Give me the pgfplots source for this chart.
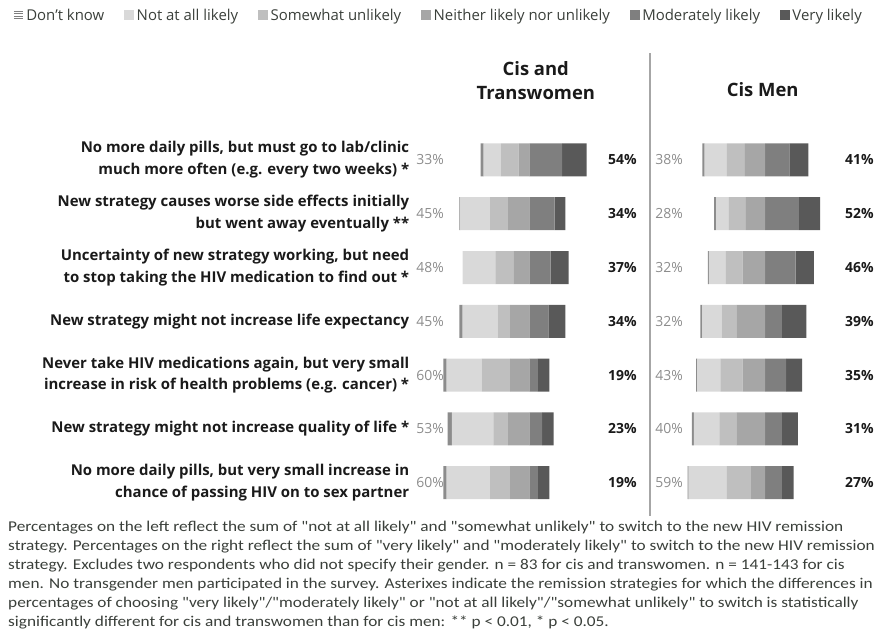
\documentclass[border=0pt]{standalone}
\usepackage{pgfplots}
\pgfplotsset{compat=1.18}
\usepackage{pgfplotstable}
\usepackage{fontspec}
\setmainfont{Open Sans}
\newfontfamily\calib[FakeStretch=1.155]{Carlito}

\definecolor{cdk}{HTML}{8C8C8C}
\definecolor{cnot}{HTML}{D9D9D9}
\definecolor{csom}{HTML}{BFBFBF}
\definecolor{cnei}{HTML}{A6A6A6}
\definecolor{cmod}{HTML}{7F7F7F}
\definecolor{cvery}{HTML}{595959}
\definecolor{labc}{HTML}{1A1A1A}
\definecolor{pctgray}{HTML}{8C8C8C}
\definecolor{fnc}{HTML}{3A3F3A}

% percent of respondents per answer, rows top (1) to bottom (7)
\pgfplotstableread{
row dk not som nei mod very
1 3 16 17 10 31 23
2 1 28 17 20 24 10
3 0 31 17 15 20 17
4 3 33 12 18 18 16
5 3 33 27 18 8 11
6 4 39 14 20 12 11
7 3 41 19 18 8 11
}\ctw

\pgfplotstableread{
row dk not som nei mod very
1 2 21 17 19 23 18
2 2 12 16 18 32 20
3 1 16 16 21 29 17
4 2 18 14 27 16 23
5 1 22 21 21 20 15
6 2 24 16 27 16 15
7 1 36 23 13 16 11
}\cm

\pgfplotsset{
  barax/.style={
    scale only axis, width=233.2bp, height=376.6bp,
    xmin=-110, xmax=110, ymin=0.5, ymax=7.5,
    xbar stacked, bar width=33bp,
    axis line style={draw=none}, major tick length=0pt,
    xtick=\empty, clip=false,
    title style={font=\bfseries\fontsize{18.5}{24}\selectfont, align=center,
      at={(0.5,1)}, anchor=south, inner sep=0pt, text=labc},
  },
  pctl/.style={draw=none, mark=none, nodes near coords={\pgfmathprintnumber{\pgfplotspointmeta}\%},
    /pgf/number format/assume math mode=true,
    nodes near coords style={anchor=east, inner sep=0pt, text=pctgray, font=\fontsize{14}{16}\selectfont}},
  pctr/.style={draw=none, mark=none, nodes near coords={\pgfmathprintnumber{\pgfplotspointmeta}\%},
    /pgf/number format/assume math mode=true,
    nodes near coords style={anchor=west, inner sep=0pt, text=labc, font=\bfseries\fontsize{14}{16}\selectfont}},
}

% unfavourable answers stack leftwards from 0, favourable ones rightwards
\newcommand{\bars}[1]{%
  \addplot[draw=none, fill=cnei] table[x expr=-\thisrow{nei}, y expr=8-\thisrow{row}]{#1};
  \addplot[draw=none, fill=csom] table[x expr=-\thisrow{som}, y expr=8-\thisrow{row}]{#1};
  \addplot[draw=none, fill=cnot] table[x expr=-\thisrow{not}, y expr=8-\thisrow{row}]{#1};
  \addplot[draw=none, fill=cdk] table[x expr=-\thisrow{dk}, y expr=8-\thisrow{row}]{#1};
  \addplot[draw=none, fill=cmod] table[x=mod, y expr=8-\thisrow{row}]{#1};
  \addplot[draw=none, fill=cvery] table[x=very, y expr=8-\thisrow{row}]{#1};
}

\begin{document}
\begin{tikzpicture}
\useasboundingbox (0bp,0bp) rectangle (878bp,-635bp);

\begin{axis}[barax, at={(412.7bp,-509.6bp)}, anchor=south west,
  ytick={1,...,7},
  yticklabels={
    {No more daily pills, but very small increase in\\chance of passing HIV on to sex partner},
    {New strategy might not increase quality of life *},
    {Never take HIV medications again, but very small\\increase in risk of health problems (e.g. cancer) *},
    {New strategy might not increase life expectancy},
    {Uncertainty of new strategy working, but need\\to stop taking the HIV medication to find out *},
    {New strategy causes worse side effects initially\\but went away eventually **},
    {No more daily pills, but must go to lab/clinic\\much more often (e.g. every two weeks) *}},
  yticklabel style={align=right, font=\bfseries\fontsize{15}{22}\selectfont, text=labc},
  title={Cis and\\Transwomen}, title style={xshift=6.5bp, yshift=27bp}]
\bars{\ctw}
\end{axis}

\begin{axis}[barax, at={(648.4bp,-509.6bp)}, anchor=south west, ytick=\empty,
  title={Cis Men}, title style={xshift=-2.3bp, yshift=30bp}]
\bars{\cm}
\end{axis}

\begin{axis}[at={(0bp,-509.6bp)}, anchor=south west, scale only axis,
  width=878bp, height=376.6bp, xmin=0, xmax=878, ymin=0.5, ymax=7.5,
  hide axis, clip=false, point meta=explicit,
  legend columns=6,
  legend style={at={(0.5,1.313)}, anchor=center, draw=none, fill=none,
    font=\fontsize{15}{16}\selectfont, text=fnc,
    /tikz/every even column/.append style={column sep=17bp},
    nodes={inner xsep=3bp}},
  legend cell align=left]
\addlegendimage{legend image code/.code={
  \draw[cmod, line width=1.1bp] (0bp,-3.6bp) -- (9bp,-3.6bp);
  \draw[cmod, line width=1.1bp] (0bp,-1.2bp) -- (9bp,-1.2bp);
  \draw[cmod, line width=1.1bp] (0bp,1.2bp) -- (9bp,1.2bp);
  \draw[cmod, line width=1.1bp] (0bp,3.6bp) -- (9bp,3.6bp);}}
\addlegendentry{Don't know}
\addlegendimage{legend image code/.code={\fill[cnot] (0bp,-4.5bp) rectangle (9bp,4.5bp);}}
\addlegendentry{Not at all likely}
\addlegendimage{legend image code/.code={\fill[csom] (0bp,-4.5bp) rectangle (9bp,4.5bp);}}
\addlegendentry{Somewhat unlikely}
\addlegendimage{legend image code/.code={\fill[cnei] (0bp,-4.5bp) rectangle (9bp,4.5bp);}}
\addlegendentry{Neither likely nor unlikely}
\addlegendimage{legend image code/.code={\fill[cmod] (0bp,-4.5bp) rectangle (9bp,4.5bp);}}
\addlegendentry{Moderately likely}
\addlegendimage{legend image code/.code={\fill[cvery] (0bp,-4.5bp) rectangle (9bp,4.5bp);}}
\addlegendentry{Very likely}
% percentages: left = not + somewhat, right = moderately + very
\addplot[pctl] table[x expr=444, y expr=8-\thisrow{row}, meta expr=\thisrow{not}+\thisrow{som}]{\ctw};
\addplot[pctr] table[x expr=608, y expr=8-\thisrow{row}, meta expr=\thisrow{mod}+\thisrow{very}]{\ctw};
\addplot[pctl] table[x expr=683, y expr=8-\thisrow{row}, meta expr=\thisrow{not}+\thisrow{som}]{\cm};
\addplot[pctr] table[x expr=845, y expr=8-\thisrow{row}, meta expr=\thisrow{mod}+\thisrow{very}]{\cm};
\end{axis}

\draw[black!35, line width=1.3bp] (650bp,-53bp) -- (650bp,-516bp);

\node[anchor=north west, align=left, inner sep=0pt, text=fnc,
  font=\calib\fontsize{15}{19}\selectfont] at (8bp,-521bp) {%
Percentages on the left reflect the sum of "not at all likely" and "somewhat unlikely" to switch to the new HIV remission\\
strategy. Percentages on the right reflect the sum of "very likely" and "moderately likely" to switch to the new HIV remission\\
strategy. Excludes two respondents who did not specify their gender. n = 83 for cis and transwomen. n = 141-143 for cis\\
men. No transgender men participated in the survey. Asterixes indicate the remission strategies for which the differences in\\
percentages of choosing "very likely"/"moderately likely" or "not at all likely"/"somewhat unlikely" to switch is statistically\\
significantly different for cis and transwomen than for cis men: ** p < 0.01, * p < 0.05.};
\end{tikzpicture}
\end{document}
